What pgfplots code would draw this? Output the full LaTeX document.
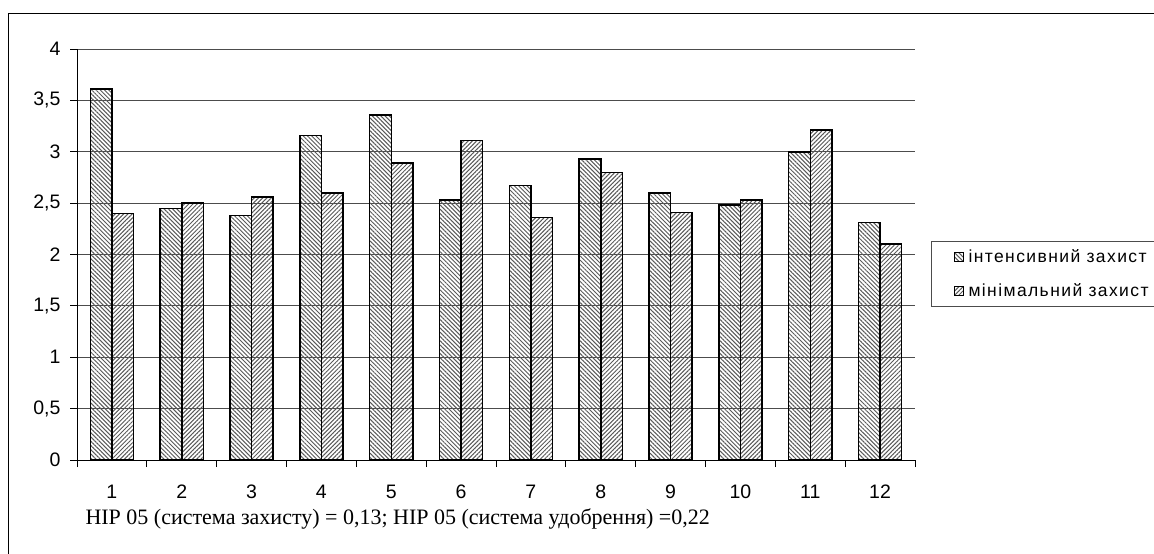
\documentclass[border=0pt]{standalone}
\usepackage{fontspec}
\setmainfont{Liberation Serif}
\newfontfamily\arial{Liberation Sans}
\usepackage{pgfplots}
\pgfplotsset{compat=1.18}
\usetikzlibrary{patterns.meta}

\pgfplotstableset{col sep=space}
% series: intensive protection / minimal protection
\pgfplotstableread{
x y
1 3.61
2 2.45
3 2.38
4 3.16
5 3.36
6 2.53
7 2.67
8 2.93
9 2.60
10 2.48
11 3.00
12 2.31
}\intensive
\pgfplotstableread{
x y
1 2.40
2 2.50
3 2.56
4 2.60
5 2.89
6 3.11
7 2.36
8 2.80
9 2.41
10 2.53
11 3.21
12 2.10
}\minimal

\begin{document}
\begin{tikzpicture}[x=1pt,y=1pt]
% outer chart frame
\draw[line width=1pt] (8.3,-700) -- (8.3,-13.3) -- (1300,-13.3);
\begin{axis}[
    at={(77pt,-460pt)}, anchor=south west,
    scale only axis,
    width=838pt, height=411pt,
    xmin=0.5, xmax=12.5,
    ymin=0, ymax=4,
    ybar=0pt,
    bar width=0.31,
    axis x line*=bottom, axis y line*=left,
    axis line style={line width=1pt, black, -},
    xtick={1,...,12},
    major x tick style={draw=none},
    minor xtick={0.5,1.5,...,12.5},
    ytick={0,0.5,...,4},
    tick align=outside,
    major tick length=7pt, minor tick length=7pt,
    tick style={line width=1pt, black},
    ymajorgrids,
    y grid style={line width=1pt, black!70},
    /pgf/number format/use comma,
    /pgf/number format/assume math mode=true,
    tick label style={font=\arial\fontsize{19.5}{22}\selectfont},
    yticklabel style={xshift=-6pt},
    xticklabel style={anchor=base, yshift=-31pt},
    legend style={at={(1.0191,0.5328)}, anchor=north west,
        draw=black!70, line width=1pt,
        font=\arial\addfontfeature{LetterSpace=8}\fontsize{17.5}{20}\selectfont,
        inner xsep=22pt, inner ysep=6pt, row sep=16pt, column sep=3pt},
    legend cell align=left,
    legend image code/.code={\draw[#1, line width=1pt] (0pt,-4.5pt) rectangle (9pt,4.5pt);},
]
\addplot[draw=black, line width=1.5pt, pattern={Lines[angle=-45,distance=3pt,line width=1pt]}, pattern color=black!65]
    table[x=x,y=y] {\intensive};
\addplot[draw=black, line width=1.5pt, pattern={Lines[angle=45,distance=3pt,line width=1pt]}, pattern color=black!65]
    table[x=x,y=y] {\minimal};
\legend{інтенсивний захист, мінімальний захист}
\end{axis}
\node[anchor=base west, font=\fontsize{22}{26}\selectfont] at (82,-524)
    {НІР 05 (система захисту) = 0,13; НІР 05 (система удобрення) =0,22};
\pgfresetboundingbox
\path[use as bounding box] (0,0) rectangle (1154,-554);
\end{tikzpicture}
\end{document}
